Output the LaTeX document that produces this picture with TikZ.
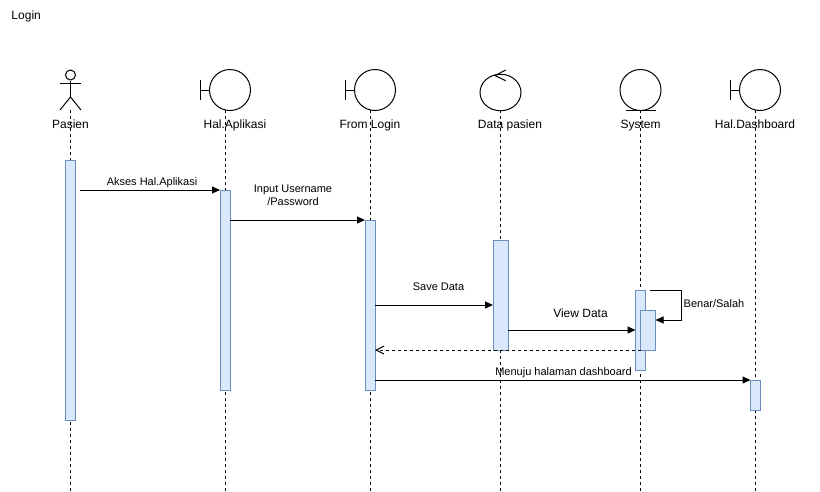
\documentclass[tikz,border=0pt]{standalone}
\usepackage{fontspec}
\setmainfont{Liberation Sans}
\usetikzlibrary{arrows.meta, positioning, shapes.geometric}
\definecolor{actblue}{RGB}{218, 232, 252}
\definecolor{actline}{RGB}{108, 142, 191}
\tikzset{
  lifeline/.style={draw=black, line width=1pt, dash pattern=on 3pt off 3pt},
  headcircle/.style={draw=black, circle, line width=1pt, minimum size=41pt, inner sep=0pt},
  activation/.style={draw=actline, fill=actblue, line width=1pt, minimum width=#1, inner sep=0pt, outer sep=0pt},
  activation/.default=10pt,
  msg/.style={draw=black, line width=1pt, -{Triangle[length=8pt,width=7pt]}},
  reply/.style={draw=black, line width=1pt, dash pattern=on 3pt off 3pt, -{Straight Barb[length=8pt,width=8pt]}},
  headlabel/.style={font=\fontsize{12}{14}\selectfont, inner sep=0pt, anchor=base},
  msglabel/.style={font=\fontsize{11}{13}\selectfont, inner sep=0pt, anchor=base, align=center},
}

\begin{document}
\begin{tikzpicture}[x=1pt, y=-1pt, line width=1pt]
  \useasboundingbox (0,0) rectangle (820,491);

  % lifelines
  \foreach \id/\xpos in {Pasien/70.5, App/225, Login/370, Data/500.5, System/640.5, Dash/755.5} {
    \coordinate (top\id) at (\xpos,110);
    \coordinate (end\id) at (\xpos,491);
    \draw[lifeline] (top\id) -- (end\id);
  }

  % actor
  \node[draw=black, circle, minimum size=10pt, inner sep=0pt] (actorHead) at (70.5,75) {};
  \coordinate (actorHip) at (70.5,97);
  \coordinate (armL) at (60,83.5);
  \coordinate (armR) at (81,83.5);
  \coordinate (legL) at (60,110);
  \coordinate (legR) at (81,110);
  \draw (actorHead.south) -- (actorHip);
  \draw (armL) -- (armR);
  \draw (legL) -- (actorHip) -- (legR);

  % boundary heads
  \foreach \id/\xpos in {App/230, Login/375, Dash/760} {
    \node[headcircle] (head\id) at (\xpos,90) {};
    \coordinate (stem\id) at (\xpos-29.5,90);
    \draw (head\id.west) -- (stem\id);
    \draw ([yshift=-10pt]stem\id) -- ([yshift=10pt]stem\id);
  }

  % entity and control heads
  \node[draw=black, line width=1pt, ellipse, minimum width=41pt, minimum height=36.5pt, inner sep=0pt] (headData) at (500.5,92.5) {};
  \coordinate (tipData) at (495,75.5);
  \draw (505.7,70) -- (tipData) -- (505.7,80.7);
  \node[headcircle] (headSystem) at (640.5,90) {};
  \draw (626,110.5) -- (656,110.5);

  % labels under the heads
  \node[headlabel] (lblPasien) at (70.5,128.5) {Pasien};
  \node[headlabel] (lblApp) at (235,128.5) {Hal.Aplikasi};
  \node[headlabel] (lblLogin) at (370,128.5) {From Login};
  \node[headlabel] (lblData) at (510,128.5) {Data pasien};
  \node[headlabel] (lblSystem) at (640.5,128.5) {System};
  \node[headlabel] (lblDash) at (755,128.5) {Hal.Dashboard};
  \node[headlabel, anchor=base west] (lblTitle) at (11,19) {Login};

  % activations
  \node[activation, minimum height=260pt] (actPasien) at (70.5,290) {};
  \node[activation, minimum height=200pt] (actApp) at (225,290) {};
  \node[activation, minimum height=170pt] (actLogin) at (370,305) {};
  \node[activation=15pt, minimum height=110pt] (actData) at (500.5,295) {};
  \node[activation, minimum height=80pt] (actSystem) at (640.5,330) {};
  \node[activation=15pt, minimum height=40pt] (actCheck) at (648,330) {};
  \node[activation, minimum height=30pt] (actDash) at (755.5,395) {};

  % messages
  \coordinate (fromPasien) at (80,190);
  \coordinate (selfStart) at (650,290);
  \coordinate (selfA) at (681,290);
  \coordinate (selfB) at (681,320);
  \draw[msg] (fromPasien) -- (actApp.north west);
  \draw[msg] (actApp.east |- actLogin.north) -- (actLogin.north west);
  \draw[msg] (actLogin.east |- 0,305) -- (actData.west |- 0,305);
  \draw[msg] (actData.east |- 0,330) -- (actSystem.west |- 0,330);
  \draw[reply] (actSystem.center |- actData.south) -- (actLogin.east |- actData.south);
  \draw[msg] (actLogin.east |- actDash.north) -- (actDash.north west);
  \draw[msg] (selfStart) -- (selfA) -- (selfB) -- (actCheck.east |- selfB);

  % message labels
  \node[msglabel] (lblAkses) at (152,185) {Akses Hal.Aplikasi};
  \node[msglabel, anchor=center] (lblInput) at (293,195) {Input Username\\/Password};
  \node[msglabel] (lblSave) at (438.5,290) {Save Data};
  \node[headlabel] (lblView) at (580.5,317) {View Data};
  \node[msglabel] (lblCheck) at (714,307) {Benar/Salah};
  \node[msglabel] (lblMenuju) at (563.5,375) {Menuju halaman dashboard};
\end{tikzpicture}
\end{document}
